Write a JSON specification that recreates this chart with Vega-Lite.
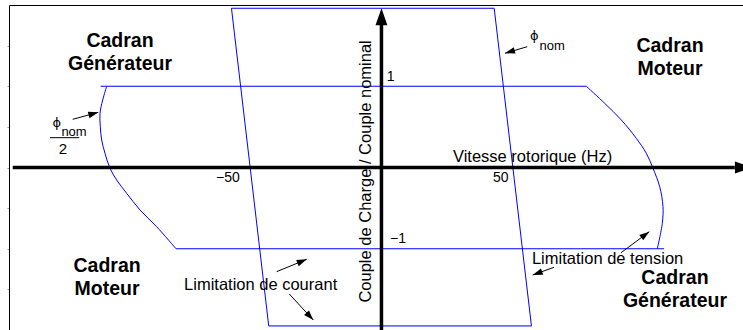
{
  "$schema": "https://vega.github.io/schema/vega-lite/v6.json",
  "width": 734,
  "height": 325,
  "autosize": {"type": "none"},
  "padding": {"left": 9, "top": 5, "right": 0, "bottom": 0},
  "background": "white",
  "config": {"view": {"stroke": null}, "font": "Liberation Sans"},
  "datasets": {
    "curves": [
      {"seg": "phi", "kind": "straight", "o": 0, "x": -60.4, "y": 1.96},
      {"seg": "phi", "kind": "straight", "o": 1, "x": 45.4, "y": 1.96},
      {"seg": "phi", "kind": "straight", "o": 2, "x": 60.4, "y": -1.95},
      {"seg": "phi", "kind": "straight", "o": 3, "x": -45.4, "y": -1.95},
      {"seg": "phi", "kind": "straight", "o": 4, "x": -60.4, "y": 1.96},
      {"seg": "vtop", "kind": "straight", "o": 0, "x": -113.1, "y": 1},
      {"seg": "vtop", "kind": "straight", "o": 1, "x": 82.5, "y": 1},
      {"seg": "vbot", "kind": "straight", "o": 0, "x": -82.7, "y": -1},
      {"seg": "vbot", "kind": "straight", "o": 1, "x": 113.8, "y": -1},
      {"seg": "vleft", "kind": "curve", "o": 0, "x": -110.65, "y": 1},
      {"seg": "vleft", "kind": "curve", "o": 1, "x": -112.26, "y": 0.831},
      {"seg": "vleft", "kind": "curve", "o": 2, "x": -113.35, "y": 0.667},
      {"seg": "vleft", "kind": "curve", "o": 3, "x": -113.23, "y": 0.502},
      {"seg": "vleft", "kind": "curve", "o": 4, "x": -112.67, "y": 0.338},
      {"seg": "vleft", "kind": "curve", "o": 5, "x": -111.34, "y": 0.175},
      {"seg": "vleft", "kind": "curve", "o": 6, "x": -109.32, "y": -0.01},
      {"seg": "vleft", "kind": "curve", "o": 7, "x": -106.63, "y": -0.154},
      {"seg": "vleft", "kind": "curve", "o": 8, "x": -102.6, "y": -0.318},
      {"seg": "vleft", "kind": "curve", "o": 9, "x": -97.24, "y": -0.523},
      {"seg": "vleft", "kind": "curve", "o": 10, "x": -90.52, "y": -0.729},
      {"seg": "vleft", "kind": "curve", "o": 11, "x": -82.74, "y": -1},
      {"seg": "vright", "kind": "curve", "o": 0, "x": 82.49, "y": 1},
      {"seg": "vright", "kind": "curve", "o": 1, "x": 89.9, "y": 0.79},
      {"seg": "vright", "kind": "curve", "o": 2, "x": 96.59, "y": 0.585},
      {"seg": "vright", "kind": "curve", "o": 3, "x": 102.63, "y": 0.359},
      {"seg": "vright", "kind": "curve", "o": 4, "x": 106.66, "y": 0.175},
      {"seg": "vright", "kind": "curve", "o": 5, "x": 109.36, "y": -0.01},
      {"seg": "vright", "kind": "curve", "o": 6, "x": 112.05, "y": -0.236},
      {"seg": "vright", "kind": "curve", "o": 7, "x": 113.38, "y": -0.482},
      {"seg": "vright", "kind": "curve", "o": 8, "x": 113.1, "y": -0.687},
      {"seg": "vright", "kind": "curve", "o": 9, "x": 111.09, "y": -1}
    ],
    "axislines": [
      {"x": -148.5, "y": 0, "x2": 142.3, "y2": 0},
      {"x": 0, "y": -2, "x2": 0, "y2": 1.754}
    ],
    "axisheads": [
      {"dir": "right", "x": 149.2, "y": 0},
      {"dir": "up", "x": 0, "y": 1.96}
    ],
    "arrows": [
      {"x": 49.75, "y": 1.406, "x2": 58.73, "y2": 1.487},
      {"x": -114.03, "y": 0.679, "x2": -124.34, "y2": 0.593},
      {"x": -30.11, "y": -1.13, "x2": -42.19, "y2": -1.282},
      {"x": -27.45, "y": -1.877, "x2": -37.12, "y2": -1.557},
      {"x": 107.86, "y": -0.79, "x2": 96.47, "y2": -1.049},
      {"x": 60.91, "y": -1.323, "x2": 69.49, "y2": -1.228}
    ],
    "fraction": [
      {"x": -133.48, "x2": -121.69, "y": 0.367}
    ],
    "texts": [
      {"kind": "cadran", "x": -105.3, "y": 1.487, "text": ["Cadran", "Générateur"]},
      {"kind": "cadran", "x": 116.2, "y": 1.425, "text": ["Cadran", "Moteur"]},
      {"kind": "cadran", "x": -110.5, "y": -1.282, "text": ["Cadran", "Moteur"]},
      {"kind": "cadran", "x": 118.2, "y": -1.4375, "text": ["Cadran", "Générateur"]},
      {"kind": "label", "x": 28.8, "y": 0.071, "text": "Vitesse rotorique (Hz)"},
      {"kind": "label", "x": -79.5, "y": -1.508, "text": "Limitation de courant"},
      {"kind": "label", "x": 60.6, "y": -1.188, "text": "Limitation de tension"},
      {"kind": "vlabel", "x": -4.2, "y": -0.048, "text": "Couple de Charge / Couple nominal"},
      {"kind": "tick", "x": 2.15, "y": 1.065, "text": "1"},
      {"kind": "tick", "x": 3.44, "y": -0.933, "text": "−1"},
      {"kind": "tick", "x": -66.6, "y": -0.175, "text": "−50"},
      {"kind": "tick", "x": 44.9, "y": -0.182, "text": "50"},
      {"kind": "phi", "x": 59.8, "y": 1.568, "text": "ϕ"},
      {"kind": "sub", "x": 63.65, "y": 1.446, "text": "nom"},
      {"kind": "phi", "x": -132.5, "y": 0.494, "text": "ϕ"},
      {"kind": "sub", "x": -128.9, "y": 0.388, "text": "nom"},
      {"kind": "two", "x": -128.25, "y": 0.166, "text": "2"}
    ]
  },
  "encoding": {
    "x": {
      "field": "x", "type": "quantitative",
      "scale": {"domain": [-150, 145.6], "nice": false, "zero": false},
      "axis": {"orient": "top", "domain": true, "domainColor": "black", "domainWidth": 1, "ticks": false, "labels": false, "title": null, "grid": false}
    },
    "y": {
      "field": "y", "type": "quantitative",
      "scale": {"domain": [-2, 2], "nice": false, "zero": false},
      "axis": {"orient": "left", "domain": true, "domainColor": "black", "domainWidth": 1, "ticks": true, "values": [-1.5, -1, -0.5, 0, 0.5, 1, 1.5], "tickSize": 2, "tickColor": "#999999", "labels": false, "title": null, "grid": false}
    }
  },
  "layer": [
    {
      "data": {"name": "curves"},
      "transform": [{"filter": "datum.kind == 'straight'"}],
      "mark": {"type": "line", "color": "#0000ff", "strokeWidth": 1},
      "encoding": {"detail": {"field": "seg"}, "order": {"field": "o", "type": "quantitative"}}
    },
    {
      "data": {"name": "curves"},
      "transform": [{"filter": "datum.kind == 'curve'"}],
      "mark": {"type": "line", "color": "#0000ff", "strokeWidth": 1, "interpolate": "catmull-rom"},
      "encoding": {"detail": {"field": "seg"}, "order": {"field": "o", "type": "quantitative"}}
    },
    {
      "data": {"name": "axislines"},
      "mark": {"type": "rule", "color": "black", "strokeWidth": 3.5},
      "encoding": {"x2": {"field": "x2"}, "y2": {"field": "y2"}}
    },
    {
      "data": {"name": "axisheads"},
      "mark": {"type": "point", "filled": true, "color": "black", "opacity": 1, "size": 1156, "strokeWidth": 0},
      "encoding": {
        "shape": {"field": "dir", "type": "nominal", "legend": null,
          "scale": {"domain": ["right", "up"], "range": ["M0,0L-1,-0.35L-1,0.35Z", "M0,0L-0.35,1L0.35,1Z"]}}
      }
    },
    {
      "data": {"name": "arrows"},
      "mark": {"type": "rule", "color": "black", "strokeWidth": 1},
      "encoding": {"x2": {"field": "x2"}, "y2": {"field": "y2"}}
    },
    {
      "data": {"name": "arrows"},
      "transform": [{"calculate": "atan2(-(datum.y - datum.y2) * 81.25, (datum.x - datum.x2) * 2.4831) * 180 / PI", "as": "ang"}],
      "mark": {"type": "point", "filled": true, "color": "black", "opacity": 1, "size": 400, "strokeWidth": 0, "shape": "M0,0L-1,-0.33L-1,0.33Z"},
      "encoding": {"angle": {"field": "ang", "type": "quantitative", "scale": null}}
    },
    {
      "data": {"name": "fraction"},
      "mark": {"type": "rule", "color": "black", "strokeWidth": 1},
      "encoding": {"x2": {"field": "x2"}}
    },
    {
      "data": {"name": "texts"},
      "transform": [{"filter": "datum.kind == 'cadran'"}],
      "mark": {"type": "text", "font": "Liberation Sans", "fontWeight": "bold", "fontSize": 19.5, "lineHeight": 23, "align": "center", "baseline": "alphabetic", "color": "black"},
      "encoding": {"text": {"field": "text", "type": "nominal"}}
    },
    {
      "data": {"name": "texts"},
      "transform": [{"filter": "datum.kind == 'label'"}],
      "mark": {"type": "text", "font": "Liberation Sans", "fontSize": 16.5, "align": "left", "baseline": "alphabetic", "color": "black"},
      "encoding": {"text": {"field": "text", "type": "nominal"}}
    },
    {
      "data": {"name": "texts"},
      "transform": [{"filter": "datum.kind == 'vlabel'"}],
      "mark": {"type": "text", "font": "Liberation Sans", "fontSize": 16.5, "align": "center", "baseline": "alphabetic", "angle": 270, "color": "black"},
      "encoding": {"text": {"field": "text", "type": "nominal"}}
    },
    {
      "data": {"name": "texts"},
      "transform": [{"filter": "datum.kind == 'tick'"}],
      "mark": {"type": "text", "font": "Liberation Sans", "fontSize": 14, "align": "left", "baseline": "alphabetic", "color": "black"},
      "encoding": {"text": {"field": "text", "type": "nominal"}}
    },
    {
      "data": {"name": "texts"},
      "transform": [{"filter": "datum.kind == 'phi'"}],
      "mark": {"type": "text", "font": "DejaVu Sans", "fontSize": 13, "align": "left", "baseline": "alphabetic", "color": "black"},
      "encoding": {"text": {"field": "text", "type": "nominal"}}
    },
    {
      "data": {"name": "texts"},
      "transform": [{"filter": "datum.kind == 'sub'"}],
      "mark": {"type": "text", "font": "Liberation Sans", "fontSize": 13, "align": "left", "baseline": "alphabetic", "color": "black"},
      "encoding": {"text": {"field": "text", "type": "nominal"}}
    },
    {
      "data": {"name": "texts"},
      "transform": [{"filter": "datum.kind == 'two'"}],
      "mark": {"type": "text", "font": "Liberation Sans", "fontSize": 15, "align": "center", "baseline": "alphabetic", "color": "black"},
      "encoding": {"text": {"field": "text", "type": "nominal"}}
    }
  ]
}
